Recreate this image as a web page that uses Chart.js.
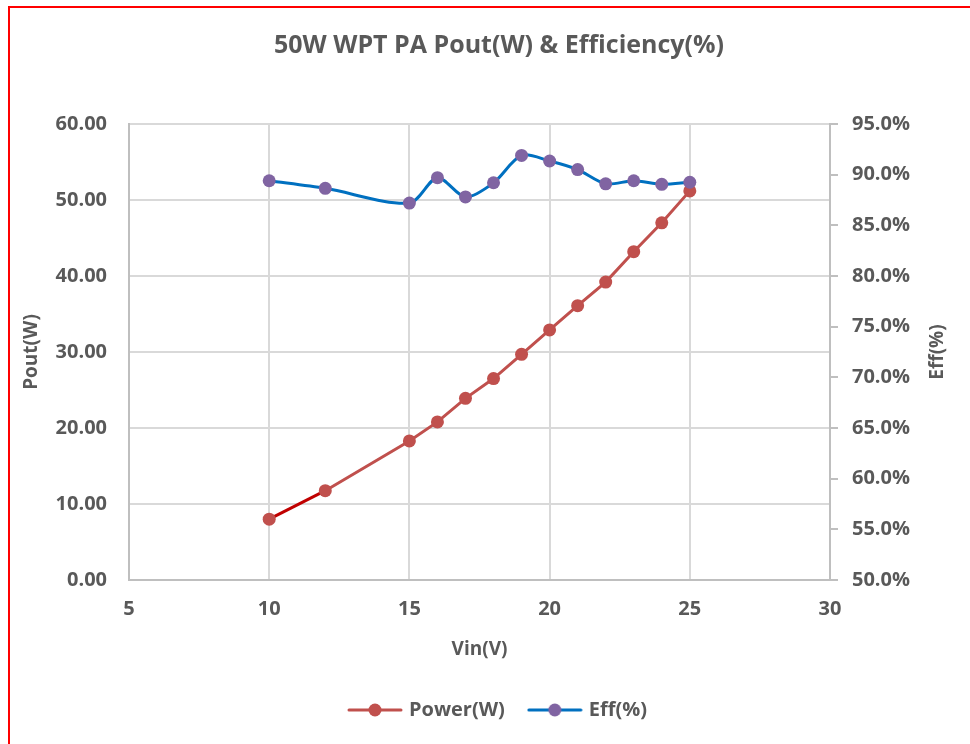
<!DOCTYPE html>
<html>
<head>
<meta charset="utf-8">
<script src="https://cdn.jsdelivr.net/npm/chart.js@4.4.1/dist/chart.umd.min.js"></script>
<style>
  html, body { margin: 0; padding: 0; background: #fff; }
  #wrap { position: relative; width: 970px; height: 744px; overflow: hidden; }
  #frame { position: absolute; left: 8px; top: 6px; width: 1000px; height: 800px;
           border-left: 2px solid #ff0000; border-top: 2px solid #ff0000; pointer-events: none; }
  canvas { position: absolute; left: 0; top: 0; }
</style>
</head>
<body>
<div id="wrap">
  <canvas id="chart" width="970" height="744"></canvas>
  <div id="frame"></div>
</div>
<script>
// Vin(V) sweep
const vin = [10, 12, 15, 16, 17, 18, 19, 20, 21, 22, 23, 24, 25];
// output power in W
const powerW = [8.0, 11.75, 18.3, 20.8, 23.9, 26.5, 29.7, 32.9, 36.1, 39.2, 43.2, 47.0, 51.2];
// efficiency in %
const effPct = [89.4, 88.65, 87.2, 89.7, 87.8, 89.2, 91.9, 91.35, 90.5, 89.1, 89.4, 89.05, 89.25];

const textColor = '#595959';
const fontFamily = '"Open Sans", Lato, sans-serif';

function toPoints(xs, ys) {
    return xs.map((x, i) => ({ x: x, y: ys[i] }));
}

// small line+dot swatch for the legend
function makeSwatch(lineColor, dotColor) {
    const c = document.createElement('canvas');
    c.width = 56;
    c.height = 16;
    const g = c.getContext('2d');
    g.strokeStyle = lineColor;
    g.lineWidth = 3;
    g.lineCap = 'round';
    g.beginPath();
    g.moveTo(2, 8);
    g.lineTo(54, 8);
    g.stroke();
    g.fillStyle = dotColor;
    g.beginPath();
    g.arc(28, 8, 6.5, 0, Math.PI * 2);
    g.fill();
    return c;
}
const swatches = [makeSwatch('#C0504D', '#C0504D'), makeSwatch('#0070C0', '#8064A2')];

// rotated axis titles (both read bottom-to-top like the original)
const axisTitles = {
    id: 'axisTitles',
    afterDraw(chart) {
        const { ctx, chartArea } = chart;
        const midY = (chartArea.top + chartArea.bottom) / 2;
        ctx.save();
        ctx.font = 'bold 19px ' + fontFamily;
        ctx.fillStyle = textColor;
        ctx.textAlign = 'center';
        ctx.textBaseline = 'middle';
        [['Pout(W)', chartArea.left - 97], ['Eff(%)', chartArea.right + 108]].forEach(([t, x]) => {
            ctx.save();
            ctx.translate(x, midY);
            ctx.rotate(-Math.PI / 2);
            ctx.fillText(t, 0, 0);
            ctx.restore();
        });
        ctx.restore();
    }
};

const ctx = document.getElementById('chart').getContext('2d');
const chart = new Chart(ctx, {
    type: 'line',
    data: {
        datasets: [{
            label: 'Power(W)',
            data: toPoints(vin, powerW),
            yAxisID: 'y',
            borderColor: '#C0504D',
            backgroundColor: '#C0504D',
            borderWidth: 3,
            pointRadius: 6.5,
            pointHoverRadius: 6.5,
            pointBorderWidth: 0,
            tension: 0,
            order: 2,
            segment: {
                borderColor: c => c.p0DataIndex === 0 ? '#C00000' : undefined
            }
        }, {
            label: 'Eff(%)',
            data: toPoints(vin, effPct),
            yAxisID: 'y1',
            borderColor: '#0070C0',
            backgroundColor: '#8064A2',
            borderWidth: 3,
            pointRadius: 6.5,
            pointHoverRadius: 6.5,
            pointBorderWidth: 0,
            tension: 0.3,
            order: 1
        }]
    },
    options: {
        responsive: false,
        animation: false,
        layout: { padding: { left: 38, right: 10, top: 0, bottom: 14 } },
        plugins: {
            title: {
                display: true,
                text: '50W WPT PA Pout(W) & Efficiency(%)',
                color: textColor,
                font: { family: fontFamily, size: 25, weight: 'bold' },
                padding: { top: 31, bottom: 63 }
            },
            legend: {
                position: 'bottom',
                labels: {
                    color: textColor,
                    font: { family: fontFamily, size: 20, weight: 'bold' },
                    usePointStyle: true,
                    pointStyleWidth: 48,
                    boxHeight: 16,
                    padding: 26,
                    sort: (a, b) => a.datasetIndex - b.datasetIndex,
                    generateLabels(chart) {
                        const items = Chart.defaults.plugins.legend.labels.generateLabels(chart);
                        items.forEach(it => { it.pointStyle = swatches[it.datasetIndex]; });
                        return items;
                    }
                }
            },
            tooltip: { enabled: false }
        },
        scales: {
            x: {
                type: 'linear',
                min: 5,
                max: 30,
                ticks: {
                    stepSize: 5,
                    color: textColor,
                    font: { family: fontFamily, size: 20, weight: 'bold' },
                    padding: 17
                },
                grid: { color: '#d9d9d9', lineWidth: 2, drawTicks: false },
                border: { color: '#bfbfbf', width: 2 },
                title: {
                    display: true,
                    text: 'Vin(V)',
                    color: textColor,
                    font: { family: fontFamily, size: 19, weight: 'bold' },
                    padding: { top: 10, bottom: 13 }
                },
                afterFit(scale) { scale.height = 94; }
            },
            y: {
                position: 'left',
                min: 0,
                max: 60,
                ticks: {
                    stepSize: 10,
                    color: textColor,
                    font: { family: fontFamily, size: 20, weight: 'bold' },
                    padding: 22,
                    callback: v => v.toFixed(2)
                },
                grid: { color: '#d9d9d9', lineWidth: 2, drawTicks: false },
                border: { color: '#bfbfbf', width: 2 },
                afterFit(scale) { scale.width = 91; }
            },
            y1: {
                position: 'right',
                min: 50,
                max: 95,
                ticks: {
                    stepSize: 5,
                    color: textColor,
                    font: { family: fontFamily, size: 20, weight: 'bold' },
                    padding: 14,
                    callback: v => v.toFixed(1) + '%'
                },
                grid: { drawOnChartArea: false, color: '#bfbfbf', lineWidth: 2, tickLength: 8 },
                border: { color: '#bfbfbf', width: 2 },
                afterFit(scale) { scale.width = 130; }
            }
        }
    },
    plugins: [axisTitles]
});
</script>
</body>
</html>
